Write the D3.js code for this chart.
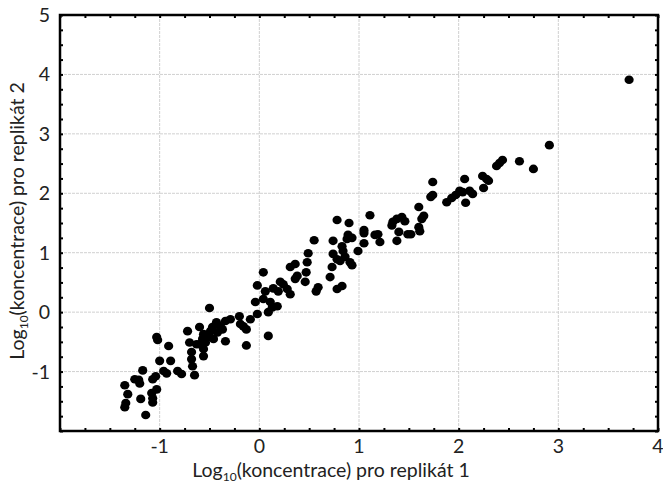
<!DOCTYPE html>
<html>
<head>
<meta charset="utf-8">
<script src="https://cdn.jsdelivr.net/npm/d3@7"></script>
<style>
  body { margin: 0; background: #fff; }
  .tick-label { font-family: "Lato", "Open Sans", sans-serif; font-size: 19.5px; fill: #222; }
  .axis-title { font-family: "Lato", "Open Sans", sans-serif; font-size: 19.5px; fill: #222; }
</style>
</head>
<body>
<div id="chart"></div>
<script>
// replicate 1 (x) and replicate 2 (y), log10 concentration
let rep1 = [
  -1.35, -1.32, -1.34, -1.35, -1.25, -1.21, -1.17, -1.19, -1.14, -1.20,
  -1.08, -1.07, -1.07, -1.03, -1.07, -1.04, -1.03, -1.02, -1.00, -0.91,
  -0.89, -0.96, -0.93, -0.82, -0.78, -0.72, -0.68, -0.68, -0.67, -0.65,
  -0.60, -0.56, -0.50, -0.43, -0.34, -0.34, -0.49, -0.42, -0.52, -0.46,
  -0.54, -0.60, -0.70, -0.63, -0.56, -0.47, -0.39, -0.37, -0.57, -0.29,
  -0.20, -0.19, -0.13, -0.13, -0.09, -0.02, -0.04, 0.04, 0.06, -0.02,
  0.04, 0.11, 0.13, 0.09, 0.18, 0.09, 0.14, 0.21, 0.19, 0.24,
  0.28, 0.31, 0.31, 0.36, 0.38, 0.36, 0.47, 0.46, 0.48, 0.49,
  0.57, 0.59, 0.55, 0.78, 0.90, 1.11, 0.74, 0.89, 0.93, 0.88,
  1.05, 1.05, 1.16, 1.19, 1.21, 1.05, 0.99, 0.83, 0.84, 0.74,
  0.78, 0.81, 0.86, 0.91, 0.93, 1.34, 1.38, 1.43, 1.46, 1.33,
  1.40, 1.38, 1.49, 0.73, 0.71, 0.78, 0.83, 1.74, 1.74, 1.72,
  1.88, 1.93, 1.97, 2.06, 2.01, 2.04, 2.11, 2.14, 2.07, 2.24,
  2.28, 2.30, 2.25, 2.38, 2.41, 2.44, 1.60, 1.63, 1.65, 1.60,
  1.61, 1.52, 3.71, 2.91, 2.61, 2.75, -0.56, -0.16
];
let rep2 = [
  -1.23, -1.38, -1.53, -1.60, -1.13, -1.14, -0.98, -1.46, -1.73, -1.20,
  -1.36, -1.45, -1.52, -1.30, -1.13, -1.08, -0.42, -0.47, -0.82, -0.57,
  -0.82, -0.99, -1.03, -0.99, -1.04, -0.32, -0.67, -0.79, -0.91, -1.06,
  -0.25, -0.74, 0.07, -0.17, -0.15, -0.49, -0.32, -0.34, -0.42, -0.45,
  -0.51, -0.54, -0.51, -0.54, -0.37, -0.25, -0.24, -0.29, -0.45, -0.12,
  -0.07, -0.20, -0.29, -0.56, -0.12, -0.03, 0.17, 0.22, 0.35, 0.45,
  0.67, 0.17, 0.08, 0.00, 0.10, -0.40, 0.40, 0.51, 0.35, 0.47,
  0.39, 0.30, 0.76, 0.81, 0.61, 0.56, 0.67, 0.51, 0.84, 0.99,
  0.35, 0.42, 1.21, 1.55, 1.50, 1.63, 1.20, 1.30, 1.25, 1.23,
  1.38, 1.33, 1.30, 1.31, 1.18, 1.16, 1.03, 1.11, 1.03, 0.98,
  0.89, 0.86, 0.93, 0.84, 0.79, 1.52, 1.57, 1.60, 1.53, 1.46,
  1.35, 1.20, 1.31, 0.76, 0.59, 0.39, 0.44, 2.19, 1.97, 1.94,
  1.85, 1.92, 1.97, 2.24, 2.04, 2.02, 2.04, 1.99, 1.84, 2.29,
  2.24, 2.21, 2.09, 2.46, 2.51, 2.56, 1.77, 1.57, 1.62, 1.43,
  1.36, 1.31, 3.91, 2.81, 2.54, 2.41, -0.62, -0.24
];
let points = rep1.map((v, i) => ({x: v, y: rep2[i]}));

let xTickLabels = [-1, 0, 1, 2, 3, 4];
let yTickLabels = [-1, 0, 1, 2, 3, 4, 5];
let xGrid = [-1, 0, 1, 2, 3];
let yGrid = [-1, 0, 1, 2, 3, 4];
let minorTicksX = d3.range(-2, 4.001, 0.25);
let minorTicksY = d3.range(-2, 5.001, 0.25);

let width = 663;
let height = 486;
let pLeft = 60, pRight = 658, pTop = 15, pBottom = 431;

let svg = d3.select("#chart")
  .append("svg")
  .attr("width", width)
  .attr("height", height);

let x = d3.scaleLinear().domain([-2, 4]).range([pLeft, pRight]);
let y = d3.scaleLinear().domain([-2, 5]).range([pBottom, pTop]);

// grid
let grid = svg.append("g").attr("class", "grid");
grid.selectAll("line.gx")
  .data(xGrid)
  .enter()
  .append("line")
  .attr("x1", d => x(d)).attr("x2", d => x(d))
  .attr("y1", pTop).attr("y2", pBottom);
grid.selectAll("line.gy")
  .data(yGrid)
  .enter()
  .append("line")
  .attr("y1", d => y(d)).attr("y2", d => y(d))
  .attr("x1", pLeft).attr("x2", pRight);
grid.selectAll("line")
  .attr("stroke", "#d0d0d0")
  .attr("stroke-width", 1)
  .attr("stroke-dasharray", "3,1");

// points
svg.selectAll("ellipse.pt")
  .data(points)
  .enter()
  .append("ellipse")
  .attr("class", "pt")
  .attr("cx", d => x(d.x))
  .attr("cy", d => y(d.y))
  .attr("rx", 4.6)
  .attr("ry", 4.3)
  .attr("fill", "#000");

// inward ticks on all four sides
function tickAxis(axis, vals, tr) {
  let g = svg.append("g")
    .attr("transform", tr)
    .call(axis.tickValues(vals).tickSize(3).tickFormat(""));
  g.select(".domain").remove();
  g.selectAll(".tick line").attr("stroke", "#000").attr("stroke-width", 2);
}
tickAxis(d3.axisTop(x), minorTicksX, "translate(0," + pBottom + ")");
tickAxis(d3.axisBottom(x), minorTicksX, "translate(0," + pTop + ")");
tickAxis(d3.axisRight(y), minorTicksY, "translate(" + pLeft + ",0)");
tickAxis(d3.axisLeft(y), minorTicksY, "translate(" + pRight + ",0)");

// frame
svg.append("rect")
  .attr("x", pLeft)
  .attr("y", pTop)
  .attr("width", pRight - pLeft)
  .attr("height", pBottom - pTop)
  .attr("fill", "none")
  .attr("stroke", "#000")
  .attr("stroke-width", 2.5);

// tick labels
svg.selectAll("text.xl")
  .data(xTickLabels)
  .enter()
  .append("text")
  .attr("class", "tick-label")
  .attr("x", d => x(d))
  .attr("y", 453)
  .attr("text-anchor", "middle")
  .text(d => d < 0 ? "-" + Math.abs(d) : d);

svg.selectAll("text.yl")
  .data(yTickLabels)
  .enter()
  .append("text")
  .attr("class", "tick-label")
  .attr("x", 50)
  .attr("y", d => y(d) + 7)
  .attr("text-anchor", "end")
  .text(d => d < 0 ? "-" + Math.abs(d) : d);

// axis titles
function title(t) {
  t.append("tspan").text("Log");
  t.append("tspan").text("10").attr("font-size", "12px").attr("dy", 4);
  t.append("tspan").text("(koncentrace) pro replikát " + t.datum()).attr("dy", -4);
}
svg.append("text")
  .datum(1)
  .attr("class", "axis-title")
  .attr("x", 331)
  .attr("y", 477)
  .attr("text-anchor", "middle")
  .call(title);

svg.append("text")
  .datum(2)
  .attr("class", "axis-title")
  .attr("transform", "translate(24,221) rotate(-90)")
  .attr("text-anchor", "middle")
  .call(title);
</script>
</body>
</html>
